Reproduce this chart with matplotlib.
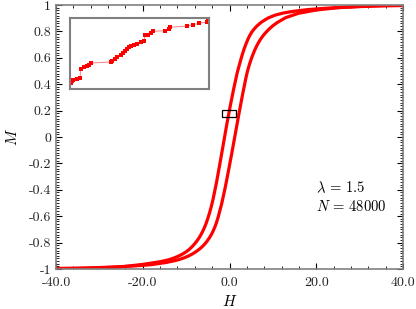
import numpy as np
import matplotlib
matplotlib.use('Agg')
import matplotlib.pyplot as plt
from matplotlib.patches import Rectangle
from matplotlib.ticker import FixedLocator, MultipleLocator

plt.rcParams['mathtext.fontset'] = 'cm'
plt.rcParams['font.family'] = ['cmr10', 'DejaVu Serif']
plt.rcParams['axes.unicode_minus'] = False

# upper branch (field coming down from +40)
h_up = [-40, -32, -25, -20, -16, -14, -13, -12, -11, -10, -9.3, -8.6, -8, -7.5, -7, -6.6,
        -6.2, -5.8, -5.4, -5.0, -4.6, -4.2, -3.8, -3.0, -2.2, -1.4, -0.6, 0.2, 1.0, 1.8,
        2.6, 3.0, 3.4, 3.8, 4.2, 4.6, 5.1, 5.6, 6.2, 6.8, 7.4, 8.2, 9.0, 10.5, 12.5, 14.5,
        18, 22, 26, 30, 35, 40]
m_up = [-1.0, -0.995, -0.984, -0.965, -0.945, -0.93, -0.919, -0.906, -0.89, -0.87, -0.852,
        -0.83, -0.808, -0.787, -0.763, -0.741, -0.716, -0.688, -0.655, -0.617, -0.575,
        -0.527, -0.473, -0.345, -0.2, -0.05, 0.10, 0.24, 0.37, 0.49, 0.585, 0.63, 0.67,
        0.705, 0.737, 0.765, 0.793, 0.815, 0.837, 0.855, 0.871, 0.888, 0.903, 0.923, 0.94,
        0.951, 0.965, 0.975, 0.982, 0.988, 0.993, 0.996]

# lower branch (field going up from -40)
h_lo = [-40, -35, -30, -26, -22, -18, -14.5, -12.5, -11.5, -10.5, -9.5, -8.5, -7.6, -6.8,
        -6.2, -5.6, -5.1, -4.6, -4.2, -3.8, -3.4, -3.0, -2.6, -1.8, -1.0, -0.2, 0.6, 1.4,
        2.2, 3.0, 3.8, 4.2, 4.6, 5.0, 5.4, 5.8, 6.2, 6.6, 7.0, 7.5, 8.0, 8.6, 9.3, 10, 11,
        13, 16, 20, 25, 32, 40]
m_lo = [-0.996, -0.993, -0.989, -0.984, -0.977, -0.967, -0.95, -0.936, -0.927, -0.916,
        -0.902, -0.885, -0.866, -0.846, -0.828, -0.807, -0.786, -0.762, -0.74, -0.714,
        -0.684, -0.648, -0.605, -0.505, -0.385, -0.25, -0.11, 0.035, 0.18, 0.32, 0.45,
        0.505, 0.55, 0.59, 0.625, 0.657, 0.685, 0.71, 0.733, 0.757, 0.778, 0.80, 0.823,
        0.843, 0.867, 0.905, 0.938, 0.962, 0.98, 0.993, 1.0]

# zoomed stretch shown in the inset (inset units)
inset_h = [0.005, 0.014, 0.024, 0.053, 0.072, 0.077, 0.101, 0.120, 0.135, 0.149, 0.293,
           0.304, 0.322, 0.336, 0.365, 0.379, 0.394, 0.412, 0.427, 0.441, 0.460, 0.480,
           0.509, 0.532, 0.540, 0.561, 0.581, 0.599, 0.686, 0.710, 0.719, 0.840, 0.887,
           0.926, 0.983, 0.993]
inset_m = [0.089, 0.113, 0.127, 0.137, 0.151, 0.286, 0.314, 0.324, 0.342, 0.366, 0.380,
           0.399, 0.418, 0.446, 0.475, 0.503, 0.531, 0.568, 0.587, 0.606, 0.624, 0.634,
           0.662, 0.680, 0.754, 0.765, 0.785, 0.813, 0.821, 0.849, 0.869, 0.887, 0.906,
           0.925, 0.944, 0.962]

zoom_box = (-1.73, 0.152, 3.23, 0.053)

x_ticks = [-40, -20, 0, 20, 40]
x_labels = ['-40.0', '-20.0', '0.0', '20.0', '40.0']
y_ticks = [-1, -0.8, -0.6, -0.4, -0.2, 0, 0.2, 0.4, 0.6, 0.8, 1]
y_labels = ['-1', '-0.8', '-0.6', '-0.4', '-0.2', '0', '0.2', '0.4', '0.6', '0.8', '1']

fig = plt.figure(figsize=(4.16, 3.09), dpi=100)
ax = fig.add_axes([56/416, 40/309, 347/416, 264/309])

ax.plot(h_up, m_up, color='#ff0000', lw=2.3, solid_capstyle='round', solid_joinstyle='round')
ax.plot(h_lo, m_lo, color='#ff0000', lw=2.3, solid_capstyle='round', solid_joinstyle='round')

ax.add_patch(Rectangle(zoom_box[:2], zoom_box[2], zoom_box[3], fill=False,
                       edgecolor='black', lw=0.9, zorder=5))

ax.set_xlim(-40, 40)
ax.set_ylim(-1, 1)
ax.xaxis.set_major_locator(FixedLocator(x_ticks))
ax.set_xticklabels(x_labels)
ax.yaxis.set_major_locator(FixedLocator(y_ticks))
ax.set_yticklabels(y_labels)
ax.xaxis.set_minor_locator(MultipleLocator(4))
ax.yaxis.set_minor_locator(MultipleLocator(0.02))
ax.tick_params(which='both', direction='in', top=True, right=True, labelsize=10,
               color='black', labelcolor='#222222')
ax.tick_params(axis='x', which='major', pad=6)
ax.tick_params(which='major', length=4, width=0.8)
ax.tick_params(which='minor', length=2, width=0.6)
for sp in ax.spines.values():
    sp.set_color('#808080')
    sp.set_linewidth(1.2)

ax.set_xlabel(r'$H$', fontsize=11, labelpad=3)
ax.set_ylabel(r'$M$', fontsize=11, labelpad=6)

ax.text(20.0, -0.386, r'$\lambda\,=\,1.5$', fontsize=10.5, va='center', ha='left')
ax.text(20.0, -0.53, r'$N\,=\,48000$', fontsize=10.5, va='center', ha='left')

ins = fig.add_axes([70/416, 220/309, 139/416, 71/309])
ins.plot(inset_h, inset_m, color='#ff0000', lw=0.7, alpha=0.5)
ins.plot(inset_h, inset_m, ls='none', marker='s', ms=2.5, color='#ff0000',
         markeredgewidth=0)
ins.set_xlim(0, 1)
ins.set_ylim(0, 1)
ins.set_xticks([])
ins.set_yticks([])
for sp in ins.spines.values():
    sp.set_color('#808080')
    sp.set_linewidth(1.5)

fig.savefig('out.png', dpi=100)
